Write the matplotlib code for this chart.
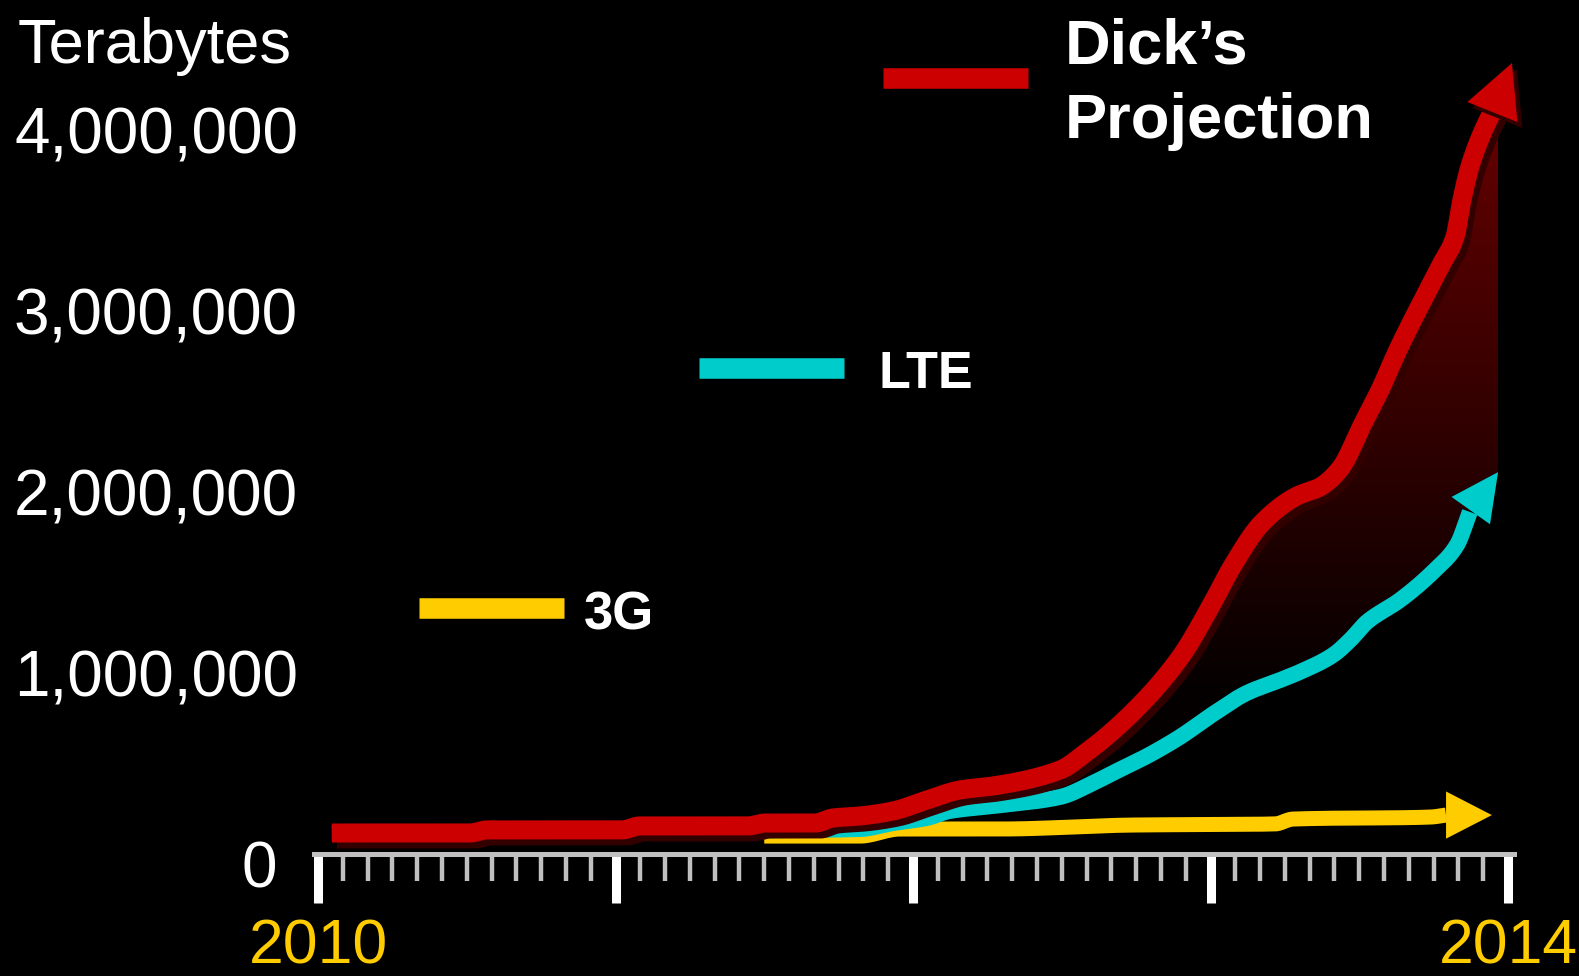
import numpy as np
import matplotlib
matplotlib.use("Agg")
import matplotlib.pyplot as plt
import matplotlib.patheffects as pe
from matplotlib.patches import Polygon
from matplotlib.lines import Line2D

plt.rcParams["font.family"] = ["Liberation Sans", "DejaVu Sans"]

# ---- data: months since January 2010, mobile traffic in terabytes ----
# the last point of every series is the tip of its arrow
dick_months = [0.56, 6.13, 6.82, 12.26, 12.98, 17.34, 18.04, 20.05, 20.77, 21.86,
               23.20, 24.56, 25.90, 27.23, 29.93, 30.90, 32.75, 34.76, 36.10, 36.79,
               38.11, 39.49, 40.42, 41.22, 42.16, 42.84, 43.56, 45.25, 45.86, 46.14,
               46.46, 46.96, 47.40, 48.16]
dick_tb = [116000, 116000, 133000, 133000, 155000, 155000, 171000, 171000, 199000, 210000,
           238000, 298000, 354000, 376000, 464000, 552000, 768000, 1083000, 1392000, 1569000,
           1834000, 1978000, 2028000, 2127000, 2381000, 2564000, 2785000, 3243000, 3409000, 3613000,
           3796000, 3983000, 4110000, 4370000]

lte_months = [0.56, 19.44, 21.86, 23.20, 24.56, 25.49, 27.23, 29.93, 31.26, 32.07,
              33.44, 34.76, 36.10, 37.47, 38.81, 39.61, 40.94, 41.63, 42.31, 43.64,
              44.97, 45.94, 46.46, 47.60]
lte_tb = [116000, 133000, 138000, 171000, 199000, 238000, 265000, 315000, 392000, 448000,
          541000, 646000, 773000, 890000, 961000, 1006000, 1099000, 1182000, 1282000, 1403000,
          1558000, 1707000, 1890000, 2110000]

g3_months = [18.00, 21.86, 23.47, 27.50, 32.87, 38.60, 39.32, 44.86, 45.50, 47.35]
g3_tb = [99000, 99000, 138000, 138000, 160000, 166000, 193000, 204000, 215000, 215000]

year_ticks = [0, 12, 24, 36, 48]
year_labels = ["2010", "", "", "", "2014"]
value_ticks = [0, 1000000, 2000000, 3000000, 4000000]
value_labels = ["0", "1,000,000", "2,000,000", "3,000,000", "4,000,000"]

RED = "#CC0000"
CYAN = "#00CCCC"
GOLD = "#FFCC00"
SHADOW = "#330000"


def smooth_curve(x, y, per_seg=24):
    """Monotone cubic (Fritsch-Carlson) path through the given points."""
    x = np.asarray(x, float)
    y = np.asarray(y, float)
    h = np.diff(x)
    d = np.diff(y) / h
    m = np.zeros_like(x)
    m[0], m[-1] = d[0], d[-1]
    for k in range(1, len(x) - 1):
        if d[k - 1] * d[k] > 0:
            w1 = 2 * h[k] + h[k - 1]
            w2 = h[k] + 2 * h[k - 1]
            m[k] = (w1 + w2) / (w1 / d[k - 1] + w2 / d[k])
    xs, ys = [], []
    t = np.linspace(0, 1, per_seg, endpoint=False)
    for k in range(len(x) - 1):
        h00 = 2 * t**3 - 3 * t**2 + 1
        h10 = t**3 - 2 * t**2 + t
        h01 = -2 * t**3 + 3 * t**2
        h11 = t**3 - t**2
        xs.append(x[k] + t * h[k])
        ys.append(h00 * y[k] + h10 * h[k] * m[k] + h01 * y[k + 1] + h11 * h[k] * m[k + 1])
    xs.append([x[-1]])
    ys.append([y[-1]])
    return np.concatenate(xs), np.concatenate(ys)


# ---- canvas ----
W, H, DPI = 1579, 976, 100
fig = plt.figure(figsize=(W / DPI, H / DPI), dpi=DPI, facecolor="black")
ax = fig.add_axes([0, 0, 1, 1])
ax.set_facecolor("black")

x0_px, px_per_month = 318.0, 297.5 / 12.0
y0_px, px_per_tb = 854.0, 181.0 / 1e6
ax.set_xlim(-x0_px / px_per_month, (W - x0_px) / px_per_month)
ax.set_ylim(-(H - y0_px) / px_per_tb, y0_px / px_per_tb)

# ---- gradient band between the projection and LTE ----
split = dick_months[9]
i_d = dick_months.index(split)
i_l = lte_months.index(split)
ux, uy = smooth_curve(dick_months[i_d:-1], dick_tb[i_d:-1])
lx, ly = smooth_curve(lte_months[i_l:], lte_tb[i_l:])
outline = np.vstack([np.column_stack([ux, uy]),
                     [[lte_months[-1], dick_tb[-2]]],
                     np.column_stack([lx, ly])[::-1]])
band = Polygon(outline, closed=True, facecolor="none", edgecolor="none",
               transform=ax.transData)
ax.add_patch(band)

levels = np.linspace(0, 4.5e6, 400)
red_level = np.clip(8 + 30 * (levels / 1e6 - 1.0), 4, 255) / 255.0
grad = np.zeros((len(levels), 2, 3))
grad[:, :, 0] = red_level[:, None]
xl = ax.get_xlim()
im = ax.imshow(grad, extent=(xl[0], xl[1], 0, 4.5e6), origin="lower",
               aspect="auto", interpolation="bilinear", zorder=1)
im.set_clip_path(band)

# ---- series lines with arrow heads ----
shadow_fx = [pe.SimpleLineShadow(offset=(3.6, -4.3), shadow_color=SHADOW, alpha=1.0), pe.Normal()]
patch_shadow = [pe.SimplePatchShadow(offset=(3.6, -4.3), shadow_rgbFace=SHADOW, alpha=1.0), pe.Normal()]

series = [
    (g3_months, g3_tb, GOLD, 10.8, 2, (1.65, 0.85), None, None),
    (lte_months, lte_tb, CYAN, 11.5, 3, (1.7, 0.85), None, None),
    (dick_months, dick_tb, RED, 13.7, 4, (1.9, 0.97), shadow_fx, patch_shadow),
]
for months, tb, color, lw, z, (hl, hw), line_fx, head_fx in series:
    sx, sy = smooth_curve(months[:-1], tb[:-1])
    ax.plot(sx, sy, color=color, lw=lw, zorder=z,
            solid_joinstyle="round", solid_capstyle="butt",
            path_effects=line_fx)
    ann = ax.annotate("", xy=(months[-1], tb[-1]), xytext=(months[-2], tb[-2]),
                      arrowprops=dict(arrowstyle=f"-|>,head_length={hl},head_width={hw}",
                                      mutation_scale=20, color=color, lw=0,
                                      shrinkA=0, shrinkB=0),
                      zorder=z)
    if head_fx is not None:
        ann.arrow_patch.set_path_effects(head_fx)

# ---- time axis ----
for side in ("left", "top", "right"):
    ax.spines[side].set_visible(False)
ax.spines["bottom"].set_position(("data", 0))
ax.spines["bottom"].set_color("#C0C0C0")
ax.spines["bottom"].set_linewidth(3.6)
ax.spines["bottom"].set_bounds(-0.16, 48.24)
ax.spines["bottom"].set_zorder(5)
ax.set_xticks(year_ticks)
ax.set_xticklabels(year_labels)
ax.set_xticks([m for m in range(1, 48) if m % 12], minor=True)
ax.tick_params(axis="x", which="major", direction="out", length=35, width=6.5,
               color="white", labelsize=45, labelcolor=GOLD, pad=11)
ax.tick_params(axis="x", which="minor", direction="out", length=19.5, width=3.2,
               color="#C0C0C0")
ax.set_yticks([])

# ---- value labels ----
for v, lab in zip(value_ticks, value_labels):
    dx, dy = (-14.4, -17) if v else (-29.5, -24)
    ax.annotate(lab, xy=(0, v), xytext=(dx, dy), textcoords="offset points",
                ha="right", va="baseline", fontsize=46, color="white")


def fx(px):
    return px / W


def fy(px):
    return 1 - px / H


fig.text(fx(18), fy(63), "Terabytes", fontsize=45.5, color="white", va="baseline")

# ---- legend ----
legend_rows = [
    (RED, 883, 1028, 78, ["Dick\u2019s", "Projection"], 1065, [63, 138], 45.5),
    (CYAN, 699, 844, 368, ["LTE"], 879, [388], 37.5),
    (GOLD, 419, 564, 608, ["3G"], 584, [630], 38),
]
for color, xa, xb, yc, lines, tx, baselines, size in legend_rows:
    fig.add_artist(Line2D([fx(xa), fx(xb)], [fy(yc), fy(yc)], transform=fig.transFigure,
                          color=color, lw=14.8, solid_capstyle="butt"))
    for text, base in zip(lines, baselines):
        fig.text(fx(tx), fy(base), text, fontsize=size, fontweight="bold",
                 color="white", va="baseline")

fig.savefig("out.png", dpi=DPI, facecolor="black")
